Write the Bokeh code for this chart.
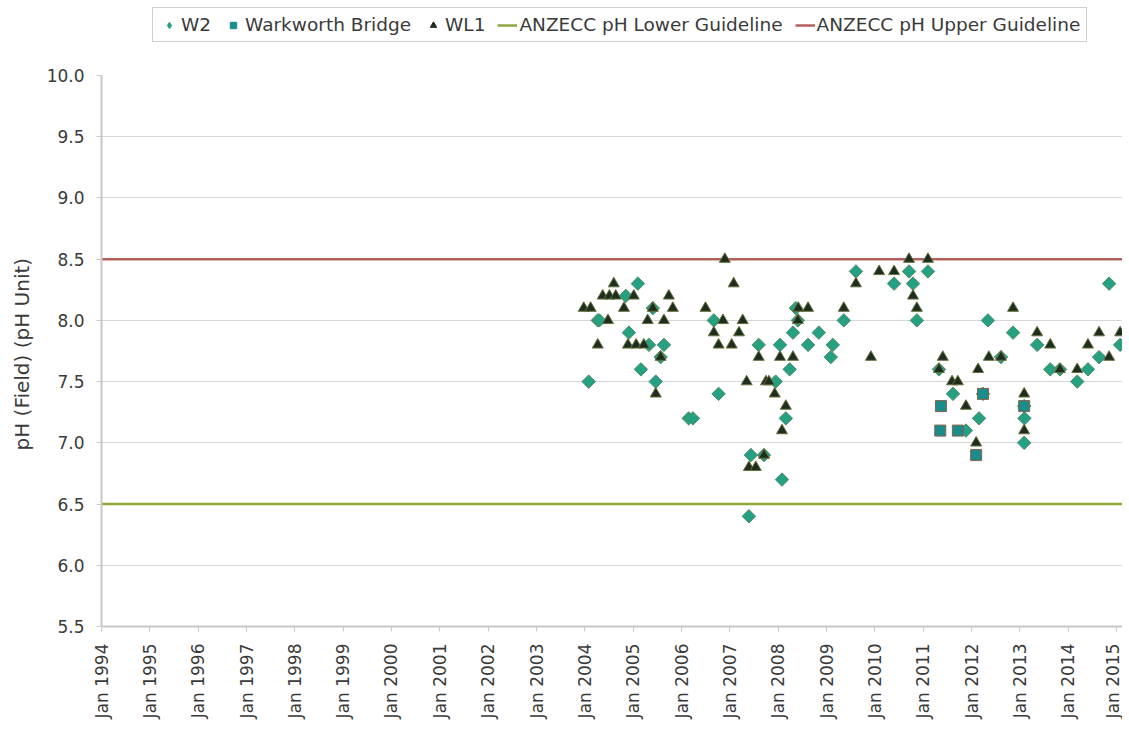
import math
import pandas as pd
from bokeh.plotting import figure
from bokeh.layouts import column
from bokeh.models import (Range1d, FixedTicker, DatetimeTickFormatter, PrintfTickFormatter,
                          Legend, LegendItem, ColumnDataSource)
from bokeh.embed import file_html
from bokeh.resources import INLINE

# ---------------- data ----------------
w2_dates = ["2004-01-30", "2004-04-08", "2004-04-20", "2004-11-06", "2004-11-29", "2005-02-05",
            "2005-02-28", "2005-04-30", "2005-05-29", "2005-06-20", "2005-07-27", "2005-08-21",
            "2006-02-24", "2006-03-28", "2006-09-02", "2006-10-08", "2007-06-09", "2007-05-25",
            "2007-08-07", "2007-09-16", "2007-12-13", "2008-01-15", "2008-01-30", "2008-02-28",
            "2008-03-28", "2008-04-22", "2008-05-14", "2008-05-29", "2008-08-14", "2008-11-03",
            "2009-02-17", "2009-02-02", "2009-05-11", "2009-08-11", "2010-05-26", "2010-09-16",
            "2010-10-16", "2010-11-14", "2011-02-06", "2011-04-30", "2011-08-14", "2011-11-20",
            "2012-02-27", "2012-03-28", "2012-05-04", "2012-08-11", "2012-11-10", "2013-02-02",
            "2013-02-04", "2013-02-02", "2013-05-11", "2013-08-18", "2013-10-30", "2014-03-10",
            "2014-05-30", "2014-08-22", "2014-11-06", "2015-01-28"]
w2_ph = [7.5, 8.0, 8.0, 8.2, 7.9, 8.3,
         7.6, 7.8, 8.1, 7.5, 7.7, 7.8,
         7.2, 7.2, 8.0, 7.4, 6.9, 6.4,
         7.8, 6.9, 7.5, 7.8, 6.7, 7.2,
         7.6, 7.9, 8.1, 8.0, 7.8, 7.9,
         7.8, 7.7, 8.0, 8.4, 8.3, 8.4,
         8.3, 8.0, 8.4, 7.6, 7.4, 7.1,
         7.2, 7.4, 8.0, 7.7, 7.9, 7.3,
         7.2, 7.0, 7.8, 7.6, 7.6, 7.5,
         7.6, 7.7, 8.3, 7.8]

wb_dates = ["2011-05-15", "2011-05-10", "2011-09-20", "2012-03-28", "2012-02-05", "2013-02-02"]
wb_ph = [7.3, 7.1, 7.1, 7.4, 6.9, 7.3]

wl1_dates = ["2003-12-24", "2004-02-14", "2004-04-08", "2004-05-15", "2004-06-24", "2004-07-05",
             "2004-08-07", "2004-08-22", "2004-10-23", "2004-11-22", "2005-01-05", "2005-01-23",
             "2005-03-22", "2005-04-20", "2005-05-29", "2005-06-20", "2005-07-27", "2005-08-21",
             "2005-09-27", "2005-10-27", "2006-07-01", "2006-09-02", "2006-10-08", "2006-11-10",
             "2006-11-24", "2007-01-15", "2007-01-30", "2007-03-11", "2007-04-08", "2007-05-08",
             "2007-05-25", "2007-07-16", "2007-08-07", "2007-09-16", "2007-10-01", "2007-10-23",
             "2007-12-06", "2008-01-15", "2008-01-30", "2008-02-28", "2008-04-22", "2008-05-29",
             "2008-06-01", "2008-08-14", "2009-05-11", "2009-08-11", "2009-12-02", "2010-02-02",
             "2010-05-26", "2010-09-16", "2010-10-16", "2010-11-14", "2011-02-06", "2011-04-30",
             "2011-05-29", "2011-08-07", "2011-09-20", "2011-11-20", "2012-02-05", "2012-02-20",
             "2012-05-11", "2012-08-11", "2012-11-10", "2013-02-02", "2013-02-02", "2013-05-11",
             "2013-08-18", "2013-10-30", "2014-03-10", "2014-05-30", "2014-08-22", "2014-11-06",
             "2015-01-28"]
wl1_ph = [8.1, 8.1, 7.8, 8.2, 8.0, 8.2,
          8.3, 8.2, 8.1, 7.8, 8.2, 7.8,
          7.8, 8.0, 8.1, 7.4, 7.7, 8.0,
          8.2, 8.1, 8.1, 7.9, 7.8, 8.0,
          8.5, 7.8, 8.3, 7.9, 8.0, 7.5,
          6.8, 6.8, 7.7, 6.9, 7.5, 7.5,
          7.4, 7.7, 7.1, 7.3, 7.7, 8.0,
          8.1, 8.1, 8.1, 8.3, 7.7, 8.4,
          8.4, 8.5, 8.2, 8.1, 8.5, 7.6,
          7.7, 7.5, 7.5, 7.3, 7.0, 7.6,
          7.7, 7.7, 8.1, 7.4, 7.1, 7.9,
          7.8, 7.6, 7.6, 7.8, 7.9, 7.7,
          7.9]

lower_guideline = 6.5
upper_guideline = 8.5

tick_years = list(range(1994, 2016))
y_ticks = [5.5, 6.0, 6.5, 7.0, 7.5, 8.0, 8.5, 9.0, 9.5, 10.0]

series_names = ["W2", "Warkworth Bridge", "WL1",
                "ANZECC pH Lower Guideline", "ANZECC pH Upper Guideline"]

# ---------------- styles ----------------
FONT = "DejaVu Sans"
TXT = "#3a3a3a"
W2_FILL, W2_LINE = "#25a083", "#4f8a60"
WB_FILL, WB_LINE = "#1a8c8c", "#8a6045"
WL_FILL, WL_LINE = "#1d2e20", "#66703a"
LO_COL, HI_COL = "#8ea83c", "#b2605c"

# ---------------- main figure ----------------
x_start = pd.Timestamp("1994-01-01")
x_end = pd.Timestamp("2015-02-15")

p = figure(width=1122, height=654, x_axis_type="datetime",
           x_range=Range1d(x_start, x_end), y_range=Range1d(5.5, 10.0),
           output_backend="svg", toolbar_location=None,
           min_border_left=101, min_border_right=0, min_border_top=8, min_border_bottom=90)
p.outline_line_color = None
p.background_fill_color = "white"

p.xaxis.ticker = FixedTicker(ticks=[pd.Timestamp(f"{y}-01-01").value / 1e6 for y in tick_years])
p.xaxis.formatter = DatetimeTickFormatter(years="%b %Y", months="%b %Y", days="%b %Y",
                                          hours="%b %Y", minutes="%b %Y", seconds="%b %Y",
                                          milliseconds="%b %Y", microseconds="%b %Y",
                                          hourmin="%b %Y", minsec="%b %Y")
p.xaxis.major_label_orientation = math.pi / 2
p.yaxis.ticker = FixedTicker(ticks=y_ticks)
p.yaxis.formatter = PrintfTickFormatter(format="%.1f")

for ax in (p.xaxis, p.yaxis):
    ax.axis_line_color = "#c8c8c8"
    ax.axis_line_width = 2
    ax.major_tick_line_color = "#c8c8c8"
    ax.major_tick_out = 5
    ax.major_tick_in = 0
    ax.minor_tick_line_color = None
    ax.major_label_text_font = FONT
    ax.major_label_text_font_size = "17px"
    ax.major_label_text_color = TXT

p.yaxis.major_label_standoff = 12
p.xaxis.major_label_standoff = 12
p.yaxis.axis_label = "pH (Field)  (pH Unit)"
p.yaxis.axis_label_text_font = FONT
p.yaxis.axis_label_text_font_size = "20px"
p.yaxis.axis_label_text_font_style = "normal"
p.yaxis.axis_label_text_color = TXT
p.yaxis.axis_label_standoff = 10

p.xgrid.grid_line_color = None
p.ygrid.grid_line_color = "#d6d6d6"
p.ygrid.grid_line_width = 1

p.line([x_start, x_end], [lower_guideline, lower_guideline], line_color=LO_COL, line_width=2.5)
p.line([x_start, x_end], [upper_guideline, upper_guideline], line_color=HI_COL, line_width=2.5)

s_w2 = ColumnDataSource(dict(x=pd.to_datetime(w2_dates), y=w2_ph))
s_wb = ColumnDataSource(dict(x=pd.to_datetime(wb_dates), y=wb_ph))
s_wl1 = ColumnDataSource(dict(x=pd.to_datetime(wl1_dates), y=wl1_ph))

p.scatter("x", "y", source=s_w2, marker="square", angle=math.pi / 4, size=9.5,
          fill_color=W2_FILL, line_color=W2_LINE, line_width=1)
p.scatter("x", "y", source=s_wb, marker="square", size=11,
          fill_color=WB_FILL, line_color=WB_LINE, line_width=1)
p.scatter("x", "y", source=s_wl1, marker="triangle", size=11,
          fill_color=WL_FILL, line_color=WL_LINE, line_width=1)

# ---------------- legend strip ----------------
lg = figure(width=1122, height=67, x_range=Range1d(0, 1), y_range=Range1d(0, 1),
            output_backend="svg", toolbar_location=None,
            x_axis_location=None, y_axis_location=None,
            min_border_left=101, min_border_right=0, min_border_top=0, min_border_bottom=0)
lg.outline_line_color = None
lg.xgrid.grid_line_color = None
lg.ygrid.grid_line_color = None

# key-only glyphs, placed outside the strip's visible range
def offscreen(n):
    return ColumnDataSource(dict(x=[-5.0 - i for i in range(n)], y=[-5.0] * n))

k_w2 = lg.scatter("x", "y", source=offscreen(1), marker="diamond", size=12,
                  fill_color=W2_FILL, line_color=W2_FILL)
k_wb = lg.scatter("x", "y", source=offscreen(1), marker="square", size=8,
                  fill_color=WB_FILL, line_color=WB_FILL)
k_wl1 = lg.scatter("x", "y", source=offscreen(1), marker="triangle", size=8,
                   fill_color=WL_FILL, line_color=WL_FILL)
k_lo = lg.line("x", "y", source=offscreen(2), line_color=LO_COL, line_width=2.5)
k_hi = lg.line("x", "y", source=offscreen(2), line_color=HI_COL, line_width=2.5)

legend = Legend(items=[
    LegendItem(label=series_names[0], renderers=[k_w2]),
    LegendItem(label=series_names[1], renderers=[k_wb]),
    LegendItem(label=series_names[2], renderers=[k_wl1]),
    LegendItem(label=series_names[3], renderers=[k_lo]),
    LegendItem(label=series_names[4], renderers=[k_hi]),
], orientation="horizontal", location=(51, 25))
legend.label_text_font = FONT
legend.label_text_font_size = "18.5px"
legend.label_text_color = TXT
legend.border_line_color = "#a0a0a0"
legend.border_line_width = 1
legend.glyph_width = 20
legend.glyph_height = 16
legend.label_standoff = 2
legend.spacing = 12
legend.padding = 6
legend.margin = 0
legend.label_height = 18
lg.add_layout(legend, "center")

layout = column(lg, p, spacing=0)
open("out.html", "w").write(file_html(layout, INLINE))
